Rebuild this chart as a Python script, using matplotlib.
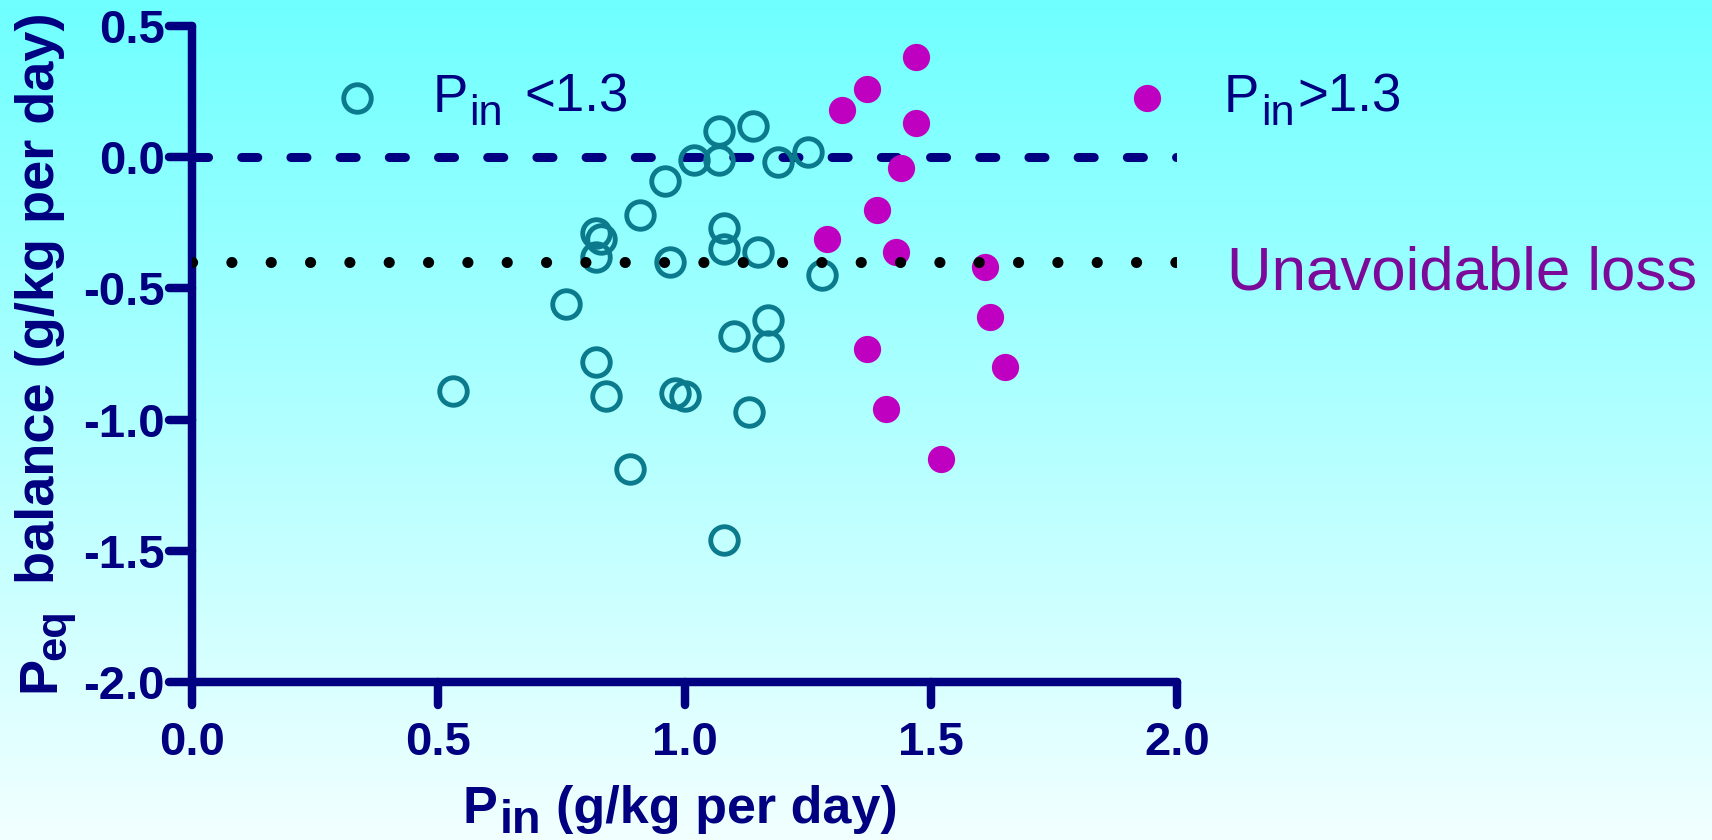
import numpy as np
import matplotlib
matplotlib.use("Agg")
import matplotlib.pyplot as plt
from matplotlib.colors import LinearSegmentedColormap
from matplotlib.markers import MarkerStyle, TICKDOWN, TICKLEFT
from matplotlib.ticker import FormatStrFormatter

# ---- data -------------------------------------------------------------
# P intake (g/kg per day) and equivalent-P balance, intake below 1.3
low_pin = [0.53, 0.76, 0.82, 0.83, 0.82, 0.82, 0.84, 0.89, 0.91, 0.96,
           0.97, 0.98, 1.00, 1.02, 1.07, 1.07, 1.08, 1.08, 1.08, 1.10,
           1.13, 1.14, 1.15, 1.17, 1.17, 1.19, 1.25, 1.28]
low_bal = [-0.89, -0.56, -0.29, -0.31, -0.38, -0.78, -0.91, -1.19, -0.22, -0.09,
           -0.40, -0.90, -0.91, -0.01, 0.10, -0.01, -0.27, -0.35, -1.46, -0.68,
           -0.97, 0.12, -0.36, -0.62, -0.72, -0.02, 0.02, -0.45]

# intake above 1.3
high_pin = [1.29, 1.32, 1.37, 1.37, 1.39, 1.41, 1.43, 1.44, 1.47, 1.47,
            1.52, 1.61, 1.62, 1.65]
high_bal = [-0.31, 0.18, 0.26, -0.73, -0.20, -0.96, -0.36, -0.04, 0.38, 0.13,
            -1.15, -0.42, -0.61, -0.80]

zero_balance = 0.0
unavoidable_loss = -0.4
x_span = [0.0, 2.0]
x_ticks = [0.0, 0.5, 1.0, 1.5, 2.0]
y_ticks = [-2.0, -1.5, -1.0, -0.5, 0.0, 0.5]

# ---- style ------------------------------------------------------------
NAVY = "#000080"
TEAL = "#0b7a8c"
MAGENTA = "#c000c0"
PURPLE = "#7b0a9a"
FONT = "Liberation Sans"

plt.rcParams["font.family"] = [FONT, "DejaVu Sans"]
plt.rcParams["axes.unicode_minus"] = False

W_PX, H_PX, DPI = 1712, 840, 100
fig = plt.figure(figsize=(W_PX / DPI, H_PX / DPI), dpi=DPI)

# vertical cyan-to-pale background
bg = fig.add_axes([0, 0, 1, 1], zorder=-10)
grad = np.linspace(0, 1, 512).reshape(-1, 1)
cmap = LinearSegmentedColormap.from_list("bg", ["#6fffff", "#f2ffff"])
bg.imshow(grad, aspect="auto", cmap=cmap, extent=[0, 1, 0, 1], origin="upper")
bg.set_axis_off()


def px_x(px):
    return px / W_PX


def px_y(py):
    return 1 - py / H_PX


ax = fig.add_axes([px_x(192), px_y(682), (1177 - 192) / W_PX, (682 - 26) / H_PX])
ax.patch.set_alpha(0)
ax.set_xlim(*x_span)
ax.set_ylim(y_ticks[0], y_ticks[-1])

for side in ("top", "right"):
    ax.spines[side].set_visible(False)
for side in ("left", "bottom"):
    ax.spines[side].set_linewidth(6.1)
    ax.spines[side].set_color(NAVY)
    ax.spines[side].set_capstyle("round")

ax.set_xticks(x_ticks)
ax.set_yticks(y_ticks)
ax.xaxis.set_major_formatter(FormatStrFormatter("%.1f"))
ax.yaxis.set_major_formatter(FormatStrFormatter("%.1f"))
ax.tick_params(axis="both", direction="out", length=16.5, width=6.1,
               color=NAVY, labelsize=34, labelcolor=NAVY)
ax.tick_params(axis="x", pad=11.8)
ax.tick_params(axis="y", pad=2.9)
for lab in ax.get_xticklabels() + ax.get_yticklabels():
    lab.set_fontweight("bold")
    lab.set_family(FONT)

for tick in ax.xaxis.get_major_ticks():
    tick.tick1line.set_marker(MarkerStyle(TICKDOWN, capstyle="round"))
for tick in ax.yaxis.get_major_ticks():
    tick.tick1line.set_marker(MarkerStyle(TICKLEFT, capstyle="round"))

# reference lines
ax.plot(x_span, [zero_balance, zero_balance], color=NAVY, lw=6.5,
        dashes=(1.78, 3.67), dash_capstyle="round", zorder=1)
ax.plot(x_span, [unavoidable_loss, unavoidable_loss], color="black", lw=8,
        dashes=(0.01, 3.53), dash_capstyle="round", zorder=4)

# data points
ax.plot(low_pin, low_bal, "o", mfc="none", mec=TEAL, ms=19.8, mew=3.5,
        zorder=3, clip_on=False)
ax.plot(high_pin, high_bal, "o", mfc=MAGENTA, mec="none", ms=19.6,
        zorder=3, clip_on=False)

# legend keys
ax.plot([(357 - 192) / 985], [(682 - 98) / 656], "o", mfc="none", mec=TEAL,
        ms=19.8, mew=3.5, transform=ax.transAxes, clip_on=False)
ax.plot([(1147 - 192) / 985], [(682 - 98) / 656], "o", mfc=MAGENTA, mec="none",
        ms=19.6, transform=ax.transAxes, clip_on=False)

renderer = fig.canvas.get_renderer()


def pieces_text(start_px, base_px, pieces, size, weight, color, vertical=False):
    """Lay out text runs one after another; each run is
    (string, size scale, baseline drop in px, gap before in px)."""
    pos = start_px
    for text, scale, drop, gap in pieces:
        if not vertical:
            pos += gap
            t = fig.text(px_x(pos), px_y(base_px + drop), text, ha="left",
                         va="baseline", fontsize=size * scale, fontweight=weight,
                         color=color, family=FONT)
            pos += t.get_window_extent(renderer).width
        else:
            pos -= gap
            t = fig.text(px_x(base_px + drop), px_y(pos), text, ha="left",
                         va="baseline", rotation=90, rotation_mode="anchor",
                         fontsize=size * scale, fontweight=weight,
                         color=color, family=FONT)
            pos -= t.get_window_extent(renderer).height


# legend labels
pieces_text(433, 111.7, [("P", 1, 0, 0), ("in", 0.82, 13, 1), ("<1.3", 1, 0, 22)],
            38, "normal", NAVY)
pieces_text(1224, 112, [("P", 1, 0, 0), ("in", 0.82, 13, 2), (">1.3", 1, 0, 3)],
            38, "normal", NAVY)

# reference line label
fig.text(px_x(1227), px_y(290), "Unavoidable loss", ha="left", va="baseline",
         fontsize=44.5, color=PURPLE, family=FONT)

# axis titles
pieces_text(462, 823, [("P", 1, 0, 0), ("in", 0.9, 10, 3),
                       ("(g/kg per day)", 1, 0, 15)],
            37.5, "bold", NAVY)
pieces_text(692, 54, [("P", 1, 0, 0), ("eq", 0.8, 11, -4),
                      ("balance (g/kg per day)", 1, 0, 25)],
            39, "bold", NAVY, vertical=True)

fig.savefig("out.png", dpi=DPI)
